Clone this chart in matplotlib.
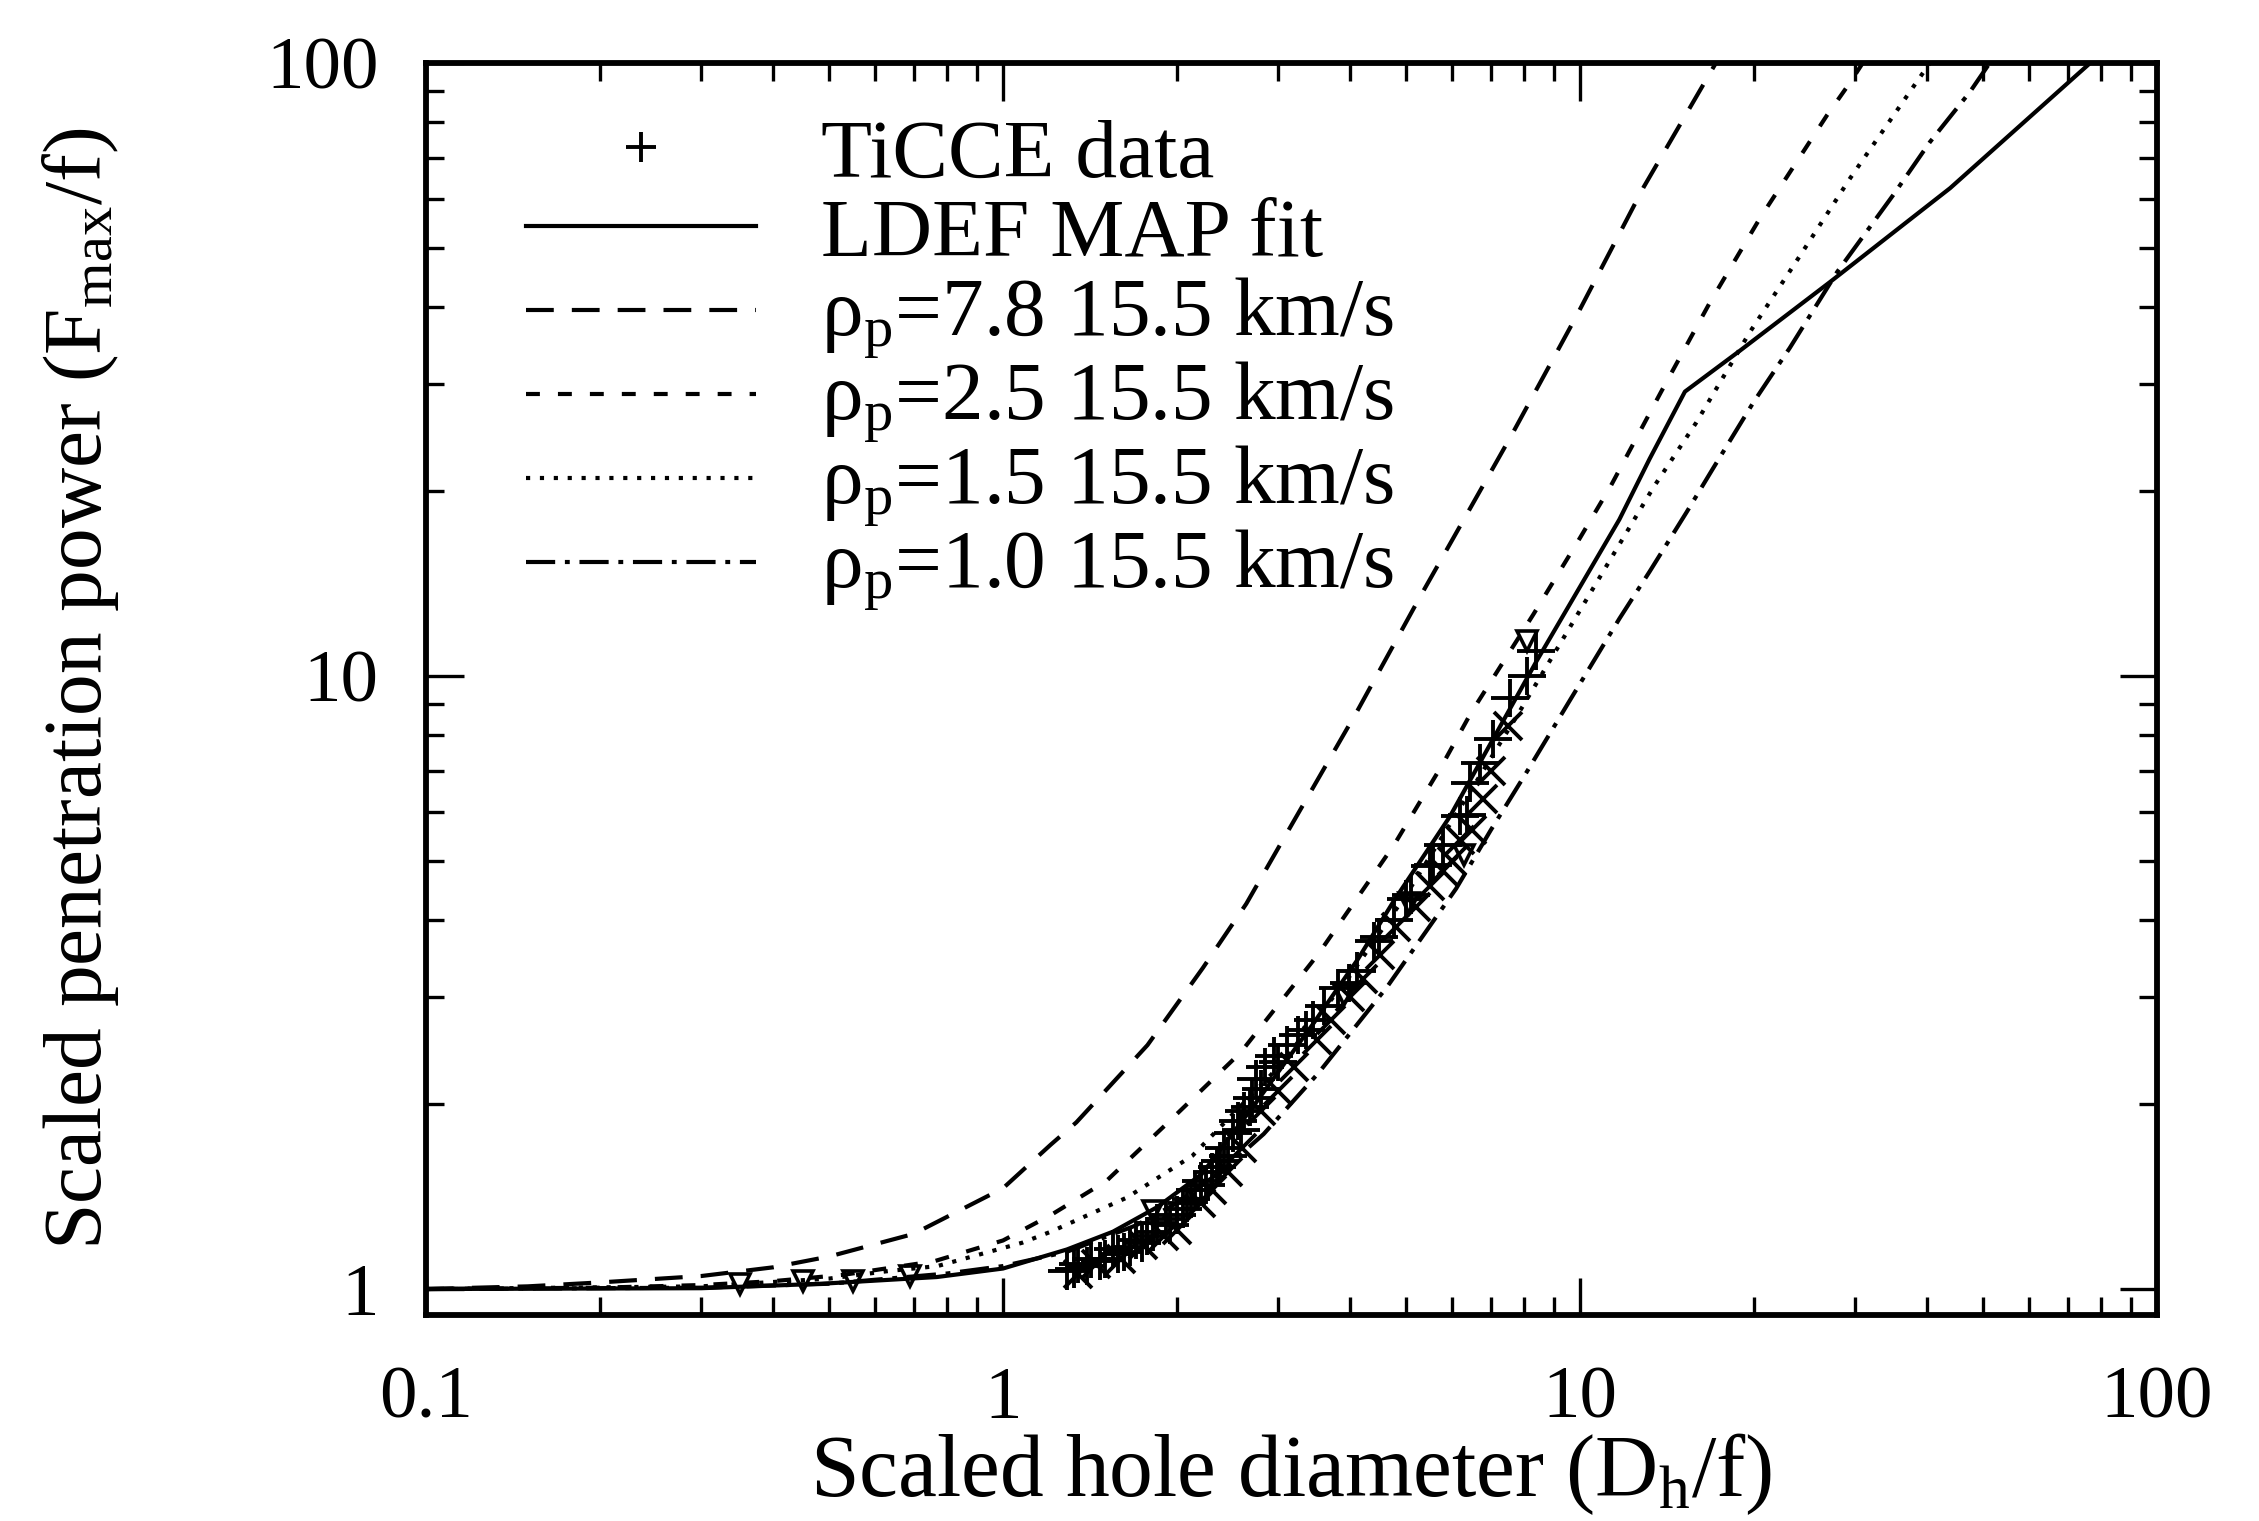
import matplotlib
matplotlib.use("Agg")
import matplotlib.pyplot as plt
from matplotlib.ticker import FixedLocator, FixedFormatter, LogLocator, NullFormatter
from matplotlib.legend_handler import HandlerLine2D

plt.rcParams['font.family'] = ['Liberation Serif', 'DejaVu Serif']
plt.rcParams['mathtext.fontset'] = 'custom'
plt.rcParams['mathtext.rm'] = 'Liberation Serif'
plt.rcParams['mathtext.it'] = 'Liberation Serif:italic'
plt.rcParams['lines.scale_dashes'] = False

# ---------------- data ----------------
# TiCCE data ("+" symbols)
ticce_x = [1.29, 1.33, 1.35, 1.40, 1.42, 1.47, 1.50, 1.55, 1.58, 1.62, 1.66, 1.70, 1.74,
           1.78, 1.82, 1.85, 1.92, 1.95, 2.00, 2.05, 2.08, 2.12, 2.15, 2.20, 2.25, 2.30,
           2.35, 2.38, 2.42, 2.45, 2.50, 2.55, 2.58, 2.62, 2.68, 2.70, 2.75, 2.80, 2.85,
           2.95, 3.00, 3.10, 3.25, 3.35, 3.44, 3.60, 3.80, 3.98, 4.10, 4.40, 4.48, 4.76,
           4.99, 5.10, 5.50, 5.56, 5.80, 6.20, 6.37, 6.44, 6.70, 7.07, 7.56, 8.10, 8.40]
ticce_y = [1.07, 1.08, 1.10, 1.09, 1.12, 1.11, 1.12, 1.16, 1.14, 1.15, 1.17, 1.20, 1.19,
           1.22, 1.24, 1.28, 1.30, 1.27, 1.32, 1.35, 1.38, 1.40, 1.45, 1.50, 1.48, 1.55,
           1.58, 1.62, 1.70, 1.65, 1.80, 1.88, 1.82, 1.95, 1.98, 2.05, 2.20, 2.12, 2.30,
           2.40, 2.35, 2.50, 2.60, 2.65, 2.75, 2.90, 3.10, 3.16, 3.30, 3.70, 3.75, 4.00,
           4.33, 4.40, 4.90, 4.92, 5.30, 5.90, 5.93, 6.70, 7.20, 7.90, 9.20, 10.0, 11.0]
# additional overplotted symbols of the data set
ticce2_x = [1.35, 1.45, 1.60, 1.75, 1.90, 2.00, 2.20, 2.30, 2.45, 2.60, 2.80, 3.00, 3.20,
            3.50, 3.70, 4.00, 4.20, 4.50, 4.80, 5.20, 5.50, 5.80, 6.00, 6.20, 6.50, 6.80,
            7.00, 7.50]
ticce2_y = [1.06, 1.10, 1.12, 1.18, 1.22, 1.25, 1.38, 1.45, 1.55, 1.70, 1.95, 2.10, 2.30,
            2.55, 2.75, 3.00, 3.20, 3.50, 3.90, 4.20, 4.55, 4.80, 5.00, 5.40, 5.60, 6.30,
            7.00, 8.30]
ticce3_x = [0.35, 0.45, 0.55, 0.69, 1.82, 3.90, 5.05, 6.30, 8.10]
ticce3_y = [1.02, 1.03, 1.03, 1.05, 1.34, 3.02, 4.26, 5.10, 11.4]

# LDEF MAP fit
fit_x = [0.1, 0.3, 0.485, 0.768, 1.0, 1.29, 1.55, 1.85, 2.21, 2.73, 3.44, 4.12, 4.76,
         5.95, 8.42, 11.7, 13.2, 15.2, 18.9, 27.1, 43.8, 73.6, 76.6]
fit_y = [1.0, 1.003, 1.02, 1.046, 1.08, 1.16, 1.24, 1.36, 1.54, 2.0, 2.7, 3.45, 4.3,
         5.9, 10.6, 18.0, 22.6, 29.1, 33.9, 43.9, 62.5, 96.7, 100.0]

# rho_p = 7.8 g/cm3, 15.5 km/s
r78_x = [0.1, 0.15, 0.2, 0.3, 0.4, 0.5, 0.7, 1.0, 1.21, 1.34, 1.78, 2.22, 2.64, 3.02,
         4.12, 5.29, 7.59, 9.88, 12.9, 17.2]
r78_y = [1.0, 1.01, 1.025, 1.05, 1.085, 1.13, 1.23, 1.46, 1.72, 1.87, 2.5, 3.34, 4.25,
         5.30, 8.8, 13.5, 24.6, 38.8, 62.8, 100.0]

# rho_p = 2.5
r25_x = [0.1, 0.2, 0.3, 0.4, 0.53, 0.76, 1.0, 1.21, 1.51, 1.91, 2.58, 3.52, 4.76, 5.79,
         6.47, 8.3, 10.0, 11.3, 13.8, 16.8, 20.5, 26.8, 29.4, 30.9]
r25_y = [1.0, 1.005, 1.015, 1.03, 1.055, 1.11, 1.2, 1.32, 1.50, 1.85, 2.43, 3.52, 5.3,
         7.2, 8.7, 12.6, 16.8, 20.4, 29.0, 40.7, 55.8, 82.2, 93.0, 100.0]

# rho_p = 1.5
r15_x = [0.1, 0.3, 0.5, 0.634, 0.77, 1.08, 1.21, 1.64, 2.13, 3.0, 4.0, 5.0, 6.0, 7.8,
         10.1, 13.4, 15.9, 19.7, 24.1, 29.4, 37.8, 40.4]
r15_y = [1.0, 1.01, 1.04, 1.07, 1.09, 1.19, 1.24, 1.41, 1.65, 2.3, 3.25, 4.4, 5.8, 8.65,
         13.0, 20.3, 25.9, 36.4, 48.6, 64.9, 91.4, 100.0]

# rho_p = 1.0
r10_x = [0.1, 0.3, 0.5, 0.8, 1.0, 1.29, 1.7, 2.0, 2.42, 2.83, 3.52, 4.63, 6.1, 7.0,
         8.03, 9.62, 11.7, 13.2, 15.3, 17.0, 20.0, 23.1, 27.9, 34.9, 40.4, 47.4, 51.3]
r10_y = [1.0, 1.005, 1.02, 1.06, 1.09, 1.15, 1.27, 1.38, 1.57, 1.79, 2.25, 3.11, 4.5,
         5.6, 6.9, 9.15, 12.4, 14.8, 18.5, 21.8, 28.0, 34.3, 45.6, 60.9, 74.3, 89.7, 100.0]

labels = ['TiCCE data', 'LDEF MAP fit',
          'ρ$_\\mathrm{p}$=7.8 15.5 km/s', 'ρ$_\\mathrm{p}$=2.5 15.5 km/s',
          'ρ$_\\mathrm{p}$=1.5 15.5 km/s', 'ρ$_\\mathrm{p}$=1.0 15.5 km/s']
xticks = [0.1, 1, 10, 100]
xticklabels = ['0.1', '1', '10', '100']
yticks = [1, 10, 100]
yticklabels = ['1', '10', '100']


class ShiftedLineHandler(HandlerLine2D):
    """Legend line handler that lowers the sample by `drop` points."""
    def __init__(self, drop=0.0, **kw):
        super().__init__(**kw)
        self.drop = drop

    def create_artists(self, legend, orig_handle, xdescent, ydescent, width, height,
                       fontsize, trans):
        return super().create_artists(legend, orig_handle, xdescent,
                                      ydescent + 2 * self.drop, width, height,
                                      fontsize, trans)


# ---------------- figure ----------------
W, H = 2259, 1521
fig = plt.figure(figsize=(W / 100, H / 100), dpi=100)
L, R, T, B = 426, 2157, 63, 1315
ax = fig.add_axes([L / W, 1 - B / H, (R - L) / W, (B - T) / H])
ax.set_xscale('log')
ax.set_yscale('log')
ax.set_xlim(0.1, 100)
ax.set_ylim(0.907, 100)

lw = 3.0
ms = 27
h0, = ax.plot(ticce_x, ticce_y, linestyle='none', marker='+', ms=ms, mew=2.8, color='black')
ax.plot(ticce2_x, ticce2_y, linestyle='none', marker='x', ms=ms * 0.75, mew=2.8, color='black')
ax.plot(ticce3_x, ticce3_y, linestyle='none', marker='v', ms=ms * 0.55, mew=2.6,
        mfc='none', mec='black')
h1, = ax.plot(fit_x, fit_y, '-', lw=lw, color='black')
h2, = ax.plot(r78_x, r78_y, lw=lw, color='black', dashes=(20, 13))
h3, = ax.plot(r25_x, r25_y, lw=lw, color='black', dashes=(10, 13))
h4, = ax.plot(r15_x, r15_y, lw=lw, color='black', dashes=(3, 7))
h5, = ax.plot(r10_x, r10_y, lw=lw, color='black', dashes=(21, 7, 3.5, 7))

ax.xaxis.set_major_locator(FixedLocator(xticks))
ax.xaxis.set_major_formatter(FixedFormatter(xticklabels))
ax.yaxis.set_major_locator(FixedLocator(yticks))
ax.yaxis.set_major_formatter(FixedFormatter(yticklabels))
ax.xaxis.set_minor_locator(LogLocator(base=10, subs=range(2, 10)))
ax.yaxis.set_minor_locator(LogLocator(base=10, subs=range(2, 10)))
ax.xaxis.set_minor_formatter(NullFormatter())
ax.yaxis.set_minor_formatter(NullFormatter())

ax.tick_params(which='both', direction='in', top=True, right=True, width=2.4, color='black')
ax.tick_params(which='major', length=27)
ax.tick_params(which='minor', length=13)
ax.tick_params(axis='x', which='major', labelsize=54, pad=37)
ax.tick_params(axis='y', which='major', labelsize=54, pad=34)
for s in ax.spines.values():
    s.set_linewidth(4.2)

ax.set_xlabel('Scaled hole diameter (D$_\\mathrm{h}$/f)', fontsize=63)
ax.set_ylabel('Scaled penetration power (F$_\\mathrm{max}$/f)', fontsize=60)
ax.xaxis.set_label_coords(0.5, -0.093)
ax.yaxis.set_label_coords(-0.176, 0.5)

hmap = {h0: ShiftedLineHandler(5.8), h1: ShiftedLineHandler(5.8)}
for hh in (h2, h3, h4, h5):
    hmap[hh] = ShiftedLineHandler(10.0)
ax.legend([h0, h1, h2, h3, h4, h5], labels, loc='upper left',
          bbox_to_anchor=(0.058, 0.970), frameon=False, fontsize=60,
          handlelength=2.75, handletextpad=0.78, handleheight=1.405,
          labelspacing=-0.21, borderpad=0, borderaxespad=0, markerscale=0.8,
          handler_map=hmap)

fig.savefig('out.png', dpi=100, facecolor='white')
